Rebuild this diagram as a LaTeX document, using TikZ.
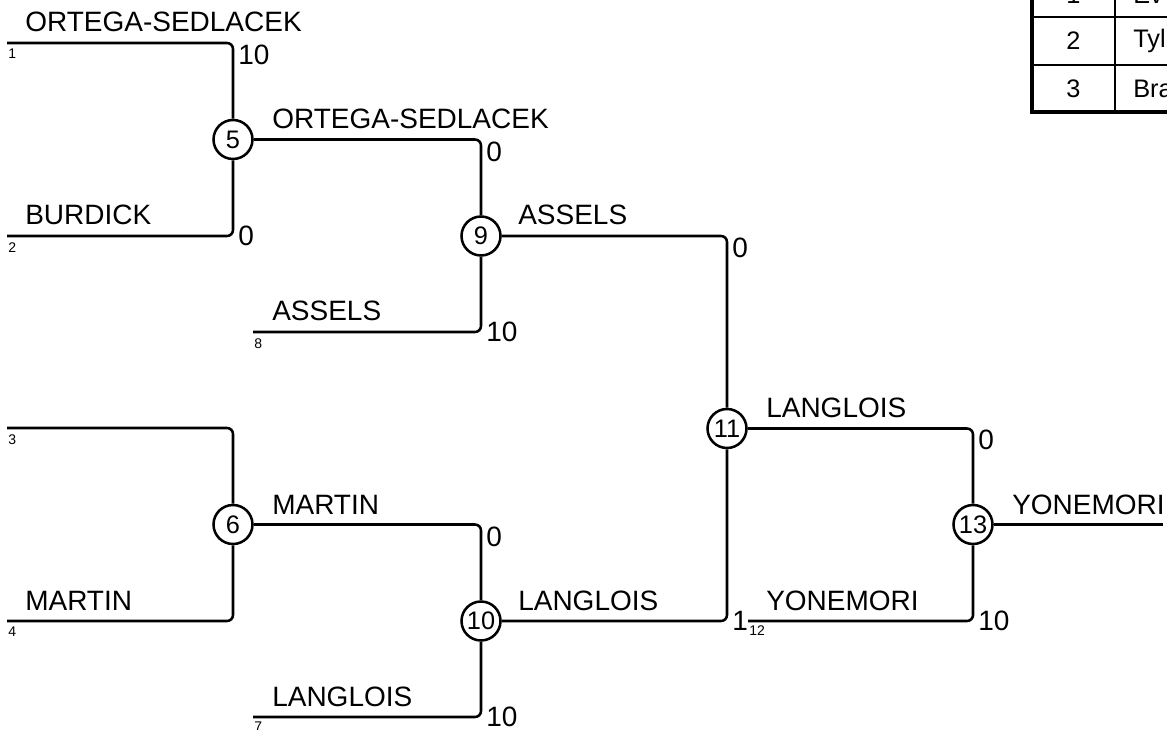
\documentclass[tikz,border=0pt]{standalone}
\usepackage{fontspec}
\setmainfont{Liberation Sans}
\begin{document}
\begin{tikzpicture}[x=0.75pt,y=-0.75pt,
  conn/.style={line width=1.9pt, rounded corners=4.5pt},
  match/.style={circle, draw, line width=1.9pt, minimum size=29.25pt, inner sep=0pt, fill=white, font=\fontsize{19}{21}\selectfont},
  namelabel/.style={anchor=base west, inner sep=0pt, font=\fontsize{21}{24}\selectfont},
  topscore/.style={anchor=north west, inner sep=0pt, font=\fontsize{21}{24}\selectfont},
  botscore/.style={anchor=west, inner sep=0pt, font=\fontsize{21}{24}\selectfont},
  seedlabel/.style={anchor=north west, inner sep=0pt, font=\fontsize{10.5}{12}\selectfont},
  cell/.style={inner sep=0pt, font=\fontsize{19}{22}\selectfont},
  thinrule/.style={line width=1.5pt},
  thickrule/.style={line width=3pt}]
\useasboundingbox (0,0) rectangle (1167,730);
\clip (0,0) rectangle (1167,730);

% seed line starts
\coordinate (s1) at (7,43);
\coordinate (s2) at (7,236);
\coordinate (s3) at (7,428);
\coordinate (s4) at (7,621);
\coordinate (s8) at (253,332);
\coordinate (s7) at (253,717);
\coordinate (s12) at (748,621);
\coordinate (fin) at (1163,524.5);

% matches
\node[match] (m5) at (233,139.5) {5};
\node[match] (m6) at (233,524.5) {6};
\node[match] (m9) at (481,236) {9};
\node[match] (m10) at (481,621) {10};
\node[match] (m11) at (727,428.5) {11};
\node[match] (m13) at (973,524.5) {13};

% connectors
\draw[conn] (s1) -| (m5);
\draw[conn] (s2) -| (m5);
\draw[conn] (s3) -| (m6);
\draw[conn] (s4) -| (m6);
\draw[conn] (m5) -| (m9);
\draw[conn] (s8) -| (m9);
\draw[conn] (m6) -| (m10);
\draw[conn] (s7) -| (m10);
\draw[conn] (m9) -| (m11);
\draw[conn] (m10) -| (m11);
\draw[conn] (m11) -| (m13);
\draw[conn] (s12) -| (m13);
\draw[conn] (m13) -- (fin);

% names
\node[namelabel] (n1) at (25,32) {ORTEGA-SEDLACEK};
\node[namelabel] (n2) at (25,225) {BURDICK};
\node[namelabel] (n4) at (25,610) {MARTIN};
\node[namelabel] (n5) at (272,129) {ORTEGA-SEDLACEK};
\node[namelabel] (n8) at (272,321) {ASSELS};
\node[namelabel] (n6) at (272,514) {MARTIN};
\node[namelabel] (n7) at (272,706) {LANGLOIS};
\node[namelabel] (n9) at (518,225) {ASSELS};
\node[namelabel] (n10) at (518,610) {LANGLOIS};
\node[namelabel] (n11) at (766,418) {LANGLOIS};
\node[namelabel] (n12) at (766,610) {YONEMORI};
\node[namelabel] (n13) at (1012,514) {YONEMORI};

% scores
\node[topscore] (sc1) at (238,45) {10};
\node[botscore] (sc2) at (238,236) {0};
\node[topscore] (sc5) at (486,142) {0};
\node[botscore] (sc8) at (486,332) {10};
\node[topscore] (sc6) at (486,527) {0};
\node[botscore] (sc7) at (486,717) {10};
\node[topscore] (sc9) at (732,238) {0};
\node[botscore] (sc10) at (732,621) {1};
\node[topscore] (sc11) at (978,430) {0};
\node[botscore] (sc12) at (978,621) {10};

% seed numbers
\node[seedlabel] (d1) at (8,49) {1};
\node[seedlabel] (d2) at (8,242) {2};
\node[seedlabel] (d3) at (8,434) {3};
\node[seedlabel] (d4) at (8,627) {4};
\node[seedlabel] (d8) at (254,338) {8};
\node[seedlabel] (d7) at (254,722) {7};
\node[seedlabel] (d12) at (749,625) {12};

% table (cut off at the page edge)
\draw[thinrule] (1032,17) -- (1200,17);
\draw[thinrule] (1032,65) -- (1200,65);
\draw[thinrule] (1115,-40) -- (1115,112);
\draw[thickrule] (1032,-40) -- (1032,112) -- (1200,112);
\node[cell] (t1) at (1073.5,-5) {1};
\node[cell] (t2) at (1073.5,41) {2};
\node[cell] (t3) at (1073.5,89) {3};
\node[cell, anchor=west] (u1) at (1133,-5) {Ev};
\node[cell, anchor=west] (u2) at (1133,41) {Tyl};
\node[cell, anchor=west] (u3) at (1133,89) {Bra};
\end{tikzpicture}
\end{document}
